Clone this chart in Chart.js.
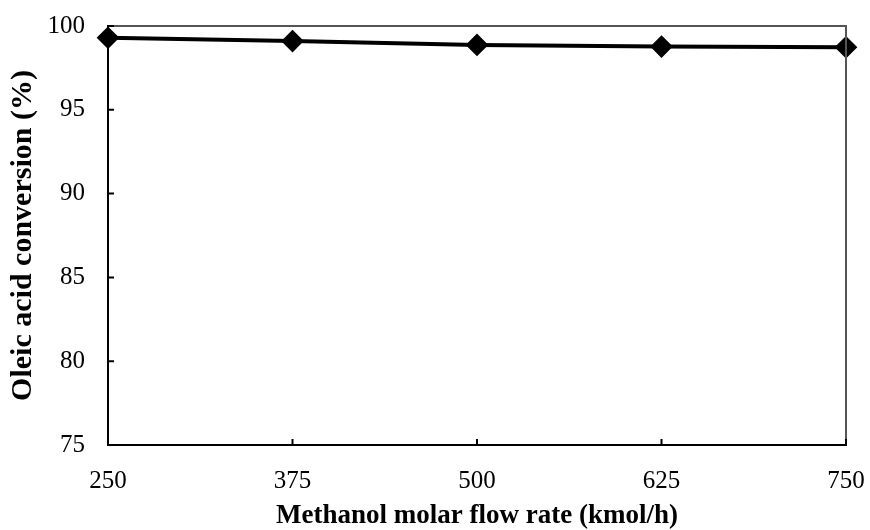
<!DOCTYPE html>
<html>
<head>
<meta charset="utf-8">
<script src="https://cdn.jsdelivr.net/npm/chart.js@4/dist/chart.umd.min.js"></script>
<style>
html,body{margin:0;padding:0;background:#fff;}
#wrap{width:870px;height:530px;}
</style>
</head>
<body>
<div id="wrap"><canvas id="c"></canvas></div>
<script>
const flowRates = [250, 375, 500, 625, 750];
const conversion = [99.3, 99.1, 98.87, 98.77, 98.73];
const xTicks = [250, 375, 500, 625, 750];
const yTicks = [75, 80, 85, 90, 95, 100];
const xTitle = 'Methanol molar flow rate (kmol/h)';
const yTitle = 'Oleic acid conversion (%)';

const FONT = '"Liberation Serif", "Times New Roman", serif';

const frame = {
  id: 'frame',
  afterDatasetsDraw(chart) {
    const {ctx, chartArea: a, scales: {x, y}} = chart;
    ctx.save();
    ctx.strokeStyle = '#555';
    ctx.lineWidth = 2;
    ctx.beginPath();
    ctx.moveTo(a.left, a.top); ctx.lineTo(a.right, a.top); ctx.lineTo(a.right, a.bottom);
    ctx.stroke();
    ctx.strokeStyle = '#000';
    ctx.lineWidth = 2;
    ctx.beginPath();
    yTicks.forEach(v => { const p = y.getPixelForValue(v); ctx.moveTo(a.left, p); ctx.lineTo(a.left + 6, p); });
    xTicks.forEach(v => { const p = x.getPixelForValue(v); ctx.moveTo(p, a.bottom); ctx.lineTo(p, a.bottom - 6); });
    ctx.stroke();
    ctx.restore();
  }
};

new Chart(document.getElementById('c'), {
  type: 'line',
  data: {
    datasets: [{
      data: flowRates.map((v, i) => ({x: v, y: conversion[i]})),
      borderColor: '#000',
      backgroundColor: '#000',
      borderWidth: 4,
      pointStyle: 'rectRot',
      pointRadius: 8.5,
      pointHoverRadius: 8.5,
      tension: 0,
      clip: false
    }]
  },
  options: {
    responsive: true,
    maintainAspectRatio: false,
    animation: false,
    layout: {padding: {top: 26, right: 24, left: 0, bottom: 0}},
    plugins: {legend: {display: false}, tooltip: {enabled: false}},
    scales: {
      x: {
        type: 'linear', min: 250, max: 750,
        afterBuildTicks: s => { s.ticks = xTicks.map(v => ({value: v})); },
        afterFit: s => { s.height = 85; s.paddingLeft = 0; s.paddingRight = 0; },
        grid: {display: false, drawTicks: false},
        border: {display: true, color: '#000', width: 2},
        ticks: {color: '#000', padding: 21, maxRotation: 0, font: {family: FONT, size: 25}},
        title: {display: true, text: xTitle, color: '#000', padding: {top: 6, bottom: 0}, font: {family: FONT, size: 27, weight: 'bold', lineHeight: 1}}
      },
      y: {
        min: 75, max: 100,
        afterBuildTicks: s => { s.ticks = yTicks.map(v => ({value: v})); },
        afterFit: s => { s.width = 108; s.paddingTop = 0; s.paddingBottom = 0; },
        grid: {display: false, drawTicks: false},
        border: {display: true, color: '#000', width: 2},
        ticks: {color: '#000', padding: 23, font: {family: FONT, size: 25}},
        title: {display: true, text: yTitle, color: '#000', padding: {top: 5, bottom: 0}, font: {family: FONT, size: 30, weight: 'bold'}}
      }
    }
  },
  plugins: [frame]
});
</script>
</body>
</html>
